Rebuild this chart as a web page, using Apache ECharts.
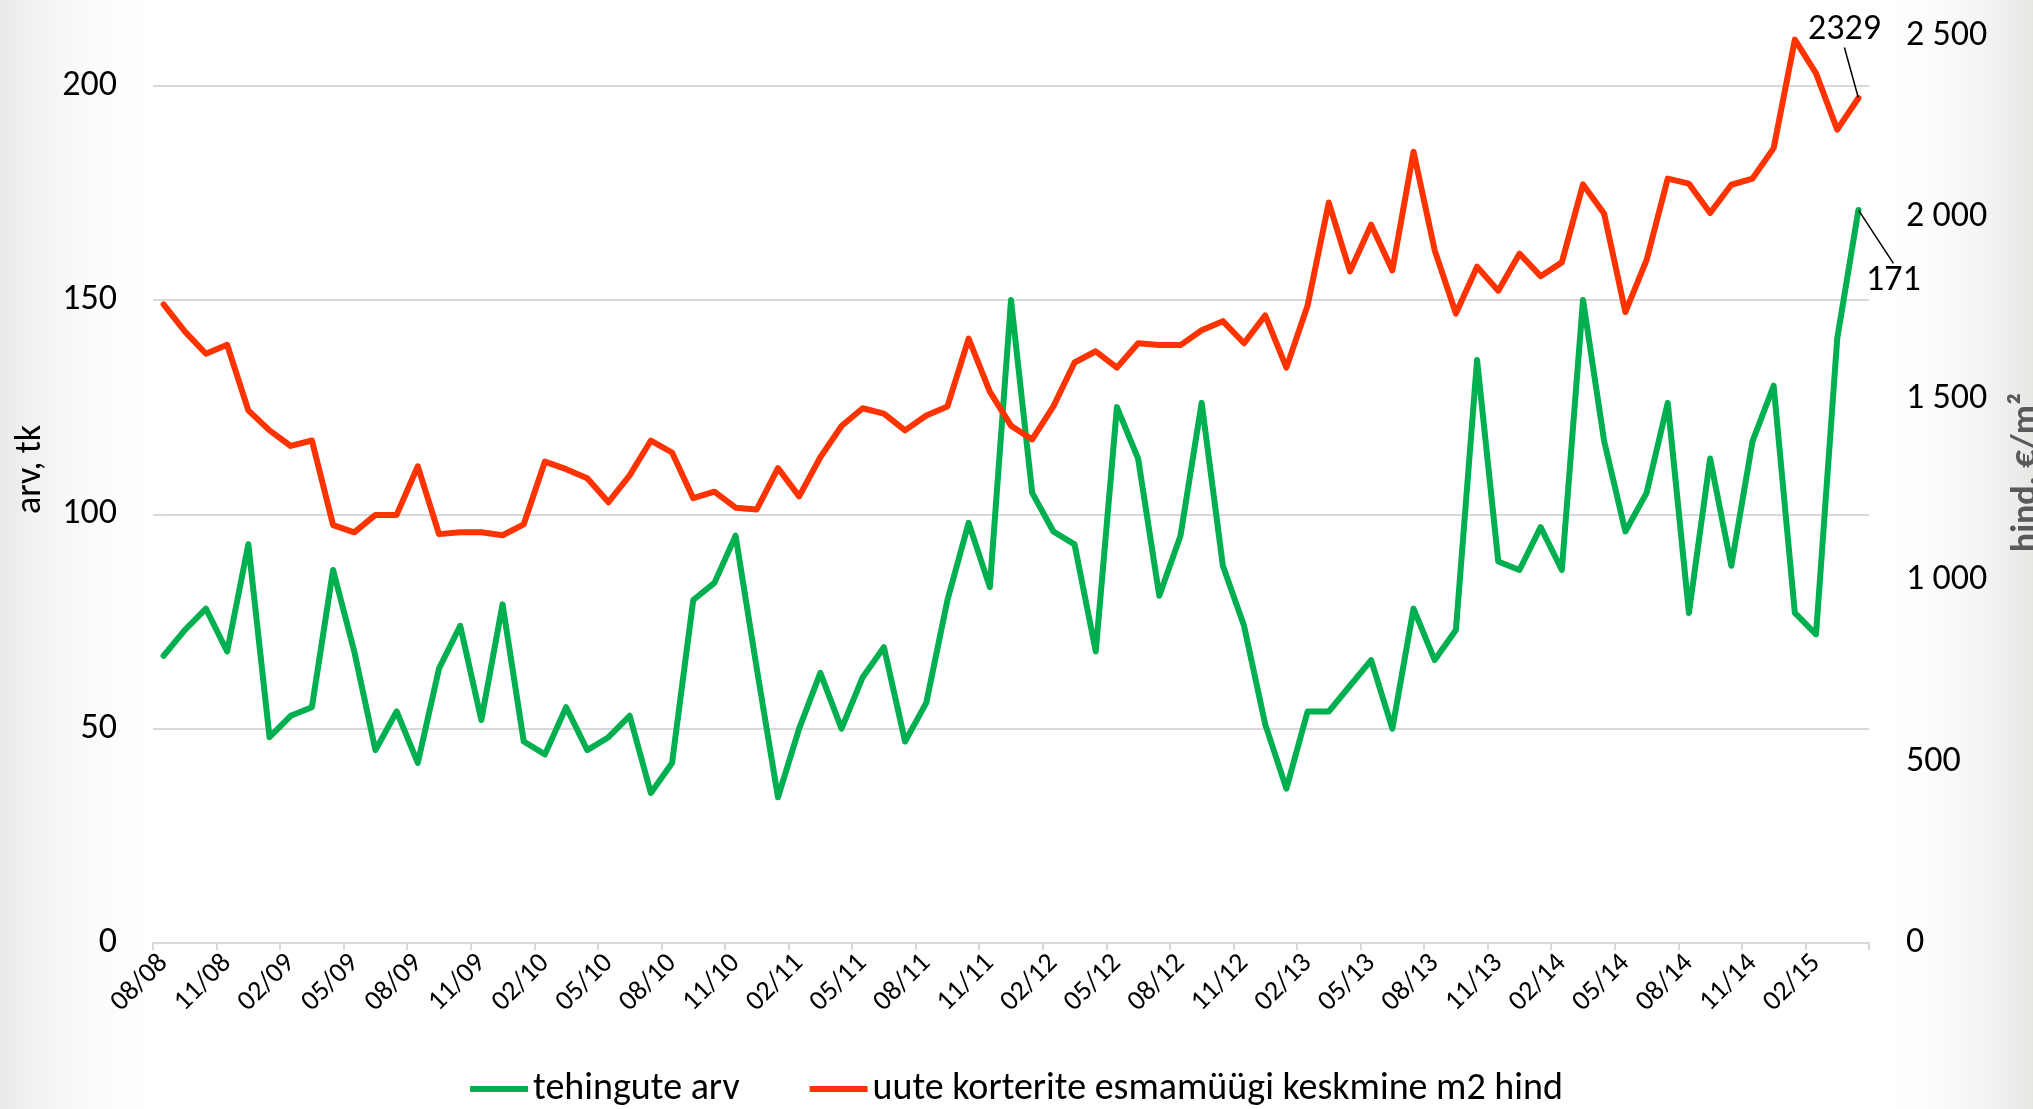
<!DOCTYPE html>
<html>
<head>
<meta charset="utf-8">
<script src="https://cdn.jsdelivr.net/npm/echarts@6/dist/echarts.min.js"></script>
<style>
html,body{margin:0;padding:0;background:#fff;}
#chart{width:2033px;height:1109px;}
</style>
</head>
<body>
<div id="chart"></div>
<script>
// ---- data ----
const categories = [
 '08/08','09/08','10/08','11/08','12/08','01/09','02/09','03/09','04/09','05/09','06/09','07/09',
 '08/09','09/09','10/09','11/09','12/09','01/10','02/10','03/10','04/10','05/10','06/10','07/10',
 '08/10','09/10','10/10','11/10','12/10','01/11','02/11','03/11','04/11','05/11','06/11','07/11',
 '08/11','09/11','10/11','11/11','12/11','01/12','02/12','03/12','04/12','05/12','06/12','07/12',
 '08/12','09/12','10/12','11/12','12/12','01/13','02/13','03/13','04/13','05/13','06/13','07/13',
 '08/13','09/13','10/13','11/13','12/13','01/14','02/14','03/14','04/14','05/14','06/14','07/14',
 '08/14','09/14','10/14','11/14','12/14','01/15','02/15','03/15','04/15'
];
const dealsCount = [
 67,73,78,68,93,48,53,55,87,68,45,54,
 42,64,74,52,79,47,44,55,45,48,53,35,
 42,80,84,95,64,34,50,63,50,62,69,47,
 56,80,98,83,150,105,96,93,68,125,113,81,
 95,126,88,74,51,36,54,54,60,66,50,78,
 66,73,136,89,87,97,87,150,117,96,105,126,
 77,113,88,117,130,77,72,141,171
];
const avgPrice = [
 1760,1686,1624,1649,1468,1413,1370,1385,1152,1132,1180,1180,
 1314,1127,1132,1132,1124,1154,1327,1306,1281,1215,1289,1385,
 1352,1226,1244,1200,1195,1309,1231,1339,1425,1474,1459,1413,
 1454,1479,1666,1520,1426,1388,1479,1600,1631,1586,1653,1648,
 1648,1689,1714,1653,1730,1586,1757,2041,1851,1980,1854,2181,
 1909,1735,1864,1798,1900,1838,1876,2091,2010,1739,1882,2107,
 2093,2012,2090,2107,2191,2490,2397,2242,2329
];
const leftTicks = [0, 50, 100, 150, 200];
const rightTicks = [0, 500, 1000, 1500, 2000, 2500];
const seriesNames = ['tehingute arv', 'uute korterite esmamüügi keskmine m2 hind'];
const axisNames = ['arv, tk', 'hind, €/m²'];

// ---- chart ----
const FONT = 'Carlito, Lato, sans-serif';
const rightMax = rightTicks[rightTicks.length - 1];
const ratio = 2329 / 197.1;          // right-axis units per left-axis unit (from reference)
const leftMax = rightMax / ratio;

function withLastLabel(arr) {
  return arr.map((v, i) => i === arr.length - 1
    ? { value: v, label: { show: true } }
    : v);
}

const chart = echarts.init(document.getElementById('chart'), null, { renderer: 'canvas' });
chart.setOption({
  backgroundColor: '#ffffff',
  animation: false,
  textStyle: { fontFamily: FONT },
  graphic: [
    { type: 'rect', silent: true, z: -10, shape: { x: 0, y: 0, width: 170, height: 1109 },
      style: { fill: { type: 'linear', x: 0, y: 0, x2: 1, y2: 0,
        colorStops: [{ offset: 0, color: 'rgba(225,225,222,0.7)' }, { offset: 1, color: 'rgba(255,255,255,0)' }] } } },
    { type: 'rect', silent: true, z: -10, shape: { x: 1870, y: 0, width: 163, height: 1109 },
      style: { fill: { type: 'linear', x: 0, y: 0, x2: 1, y2: 0,
        colorStops: [{ offset: 0, color: 'rgba(255,255,255,0)' }, { offset: 1, color: 'rgba(225,225,222,0.8)' }] } } }
  ],
  grid: { left: 153, right: 164, top: 36, bottom: 166, containLabel: false, outerBoundsMode: 'none' },
  legend: {
    bottom: -4,
    left: 'center',
    itemGap: 70,
    itemWidth: 58,
    itemHeight: 6,
    icon: 'rect',
    textStyle: { fontFamily: FONT, fontSize: 38, color: '#000' },
    data: seriesNames
  },
  xAxis: {
    type: 'category',
    data: categories,
    boundaryGap: true,
    axisLine: { show: true, lineStyle: { color: '#D9D9D9', width: 2 } },
    axisTick: { show: true, interval: 2, length: 7, lineStyle: { color: '#D9D9D9', width: 2 } },
    axisLabel: { interval: 2, rotate: 45, margin: 16, fontFamily: FONT, fontSize: 28, color: '#000' },
    splitLine: { show: false }
  },
  yAxis: [
    {
      type: 'value',
      position: 'left',
      min: 0,
      max: leftMax,
      interval: 50,
      name: axisNames[0],
      nameLocation: 'middle',
      nameRotate: 90,
      nameGap: 104,
      nameTextStyle: { fontFamily: FONT, fontSize: 36, color: '#000', padding: [0, 0, 0, 40] },
      axisLine: { show: false },
      axisTick: { show: false },
      axisLabel: { showMaxLabel: false, margin: 36, fontFamily: FONT, fontSize: 36, color: '#000',
        formatter: v => leftTicks.includes(v) ? String(v) : '' },
      splitLine: { show: true, showMaxLine: false, showMinLine: false, lineStyle: { color: '#D9D9D9', width: 2 } }
    },
    {
      type: 'value',
      position: 'right',
      min: 0,
      max: rightMax,
      interval: 500,
      name: axisNames[1],
      nameLocation: 'middle',
      nameRotate: 90,
      nameGap: 140,
      nameTextStyle: { fontFamily: FONT, fontSize: 36, color: '#595959', fontWeight: 'bold', padding: [0, 0, 0, 34] },
      axisLine: { show: false },
      axisTick: { show: false },
      axisLabel: { margin: 37, fontFamily: FONT, fontSize: 36, color: '#000',
        formatter: v => rightTicks.includes(v) ? String(v).replace(/\B(?=(\d{3})+(?!\d))/g, ' ') : '' },
      splitLine: { show: false }
    }
  ],
  series: [
    {
      name: seriesNames[0],
      type: 'line',
      yAxisIndex: 0,
      data: withLastLabel(dealsCount),
      color: '#00B050',
      lineStyle: { color: '#00B050', width: 6, join: 'round', cap: 'round' },
      itemStyle: { color: '#00B050' },
      symbol: 'circle',
      symbolSize: 1,
      showSymbol: true,
      showAllSymbol: true,
      z: 3,
      label: { show: false, position: 'bottom', fontFamily: FONT, fontSize: 36, color: '#000' },
      labelLine: { show: true, lineStyle: { color: '#000', width: 1.5 } },
      labelLayout: { dx: 35, dy: 48 },
      emphasis: { disabled: true }
    },
    {
      name: seriesNames[1],
      type: 'line',
      yAxisIndex: 1,
      data: withLastLabel(avgPrice),
      color: '#FF3300',
      lineStyle: { color: '#FF3300', width: 6, join: 'round', cap: 'round' },
      itemStyle: { color: '#FF3300' },
      symbol: 'circle',
      symbolSize: 1,
      showSymbol: true,
      showAllSymbol: true,
      z: 4,
      label: { show: false, position: 'top', fontFamily: FONT, fontSize: 36, color: '#000' },
      labelLine: { show: true, lineStyle: { color: '#000', width: 1.5 } },
      labelLayout: { dx: -14, dy: -45 },
      emphasis: { disabled: true }
    }
  ]
});
</script>
</body>
</html>
